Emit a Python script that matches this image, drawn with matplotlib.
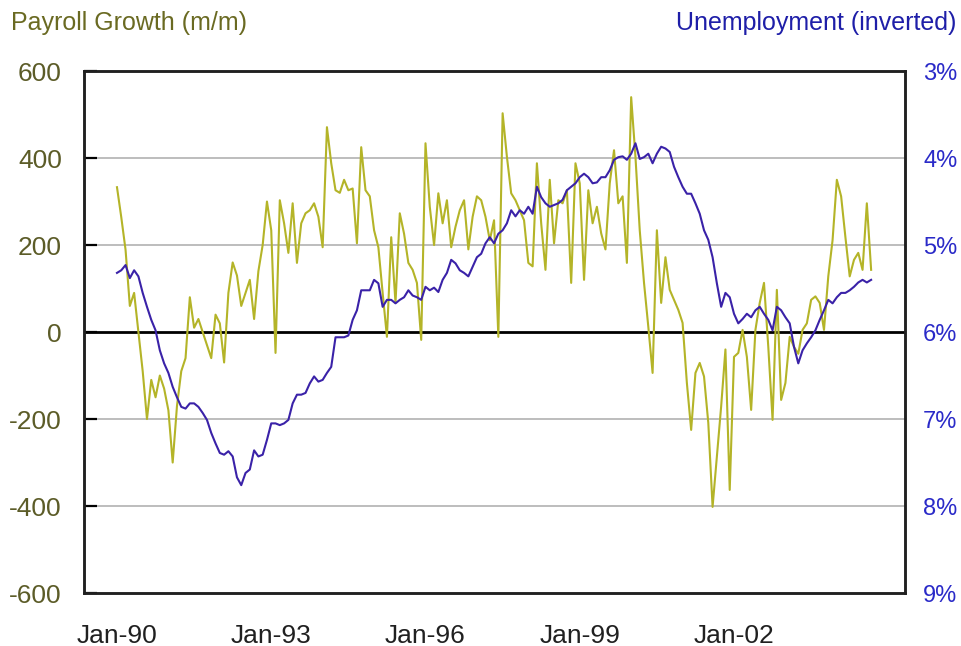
import numpy as np
import matplotlib
matplotlib.use("Agg")
import matplotlib.pyplot as plt

# monthly data, Jan-1990 onwards
payroll = [333, 264, 189, 60, 90, 0, -90, -200, -110, -150, -100, -130,
           -180, -300, -170, -90, -60, 80, 10, 30, 0, -30, -60, 40,
           20, -70, 90, 160, 130, 60, 90, 120, 30, 140, 200, 300,
           234, -48, 303, 250, 182, 296, 159, 250, 273, 280, 296, 265,
           195, 471, 388, 326, 320, 350, 326, 330, 204, 425, 326, 312,
           234, 195, 90, -11, 218, 67, 273, 226, 159, 143, 113, -18,
           434, 288, 200, 319, 250, 303, 195, 242, 280, 303, 190, 265,
           312, 303, 265, 211, 257, -11, 503, 403, 319, 303, 280, 257,
           159, 151, 388, 250, 143, 350, 204, 303, 296, 326, 113, 388,
           342, 120, 326, 250, 288, 227, 190, 342, 418, 296, 312, 159,
           540, 403, 234, 113, 12, -94, 234, 67, 172, 97, 74, 51,
           21, -117, -225, -94, -71, -102, -209, -402, -287, -171, -40, -363,
           -57, -48, 5, -57, -179, 5, 67, 113, -34, -202, 97, -156,
           -117, -11, -34, -50, 5, 20, 74, 82, 67, 5, 128, 211,
           350, 312, 218, 128, 166, 182, 143, 296, 143]

unemployment = [5.32, 5.29, 5.23, 5.38, 5.29, 5.36, 5.55, 5.71, 5.86, 5.98, 6.21, 6.36,
                6.47, 6.63, 6.75, 6.86, 6.88, 6.82, 6.82, 6.86, 6.93, 7.01, 7.16, 7.28,
                7.39, 7.41, 7.37, 7.43, 7.67, 7.76, 7.62, 7.58, 7.36, 7.43, 7.41, 7.24,
                7.05, 7.05, 7.07, 7.05, 7.01, 6.82, 6.72, 6.72, 6.70, 6.59, 6.51, 6.57,
                6.55, 6.47, 6.40, 6.06, 6.06, 6.06, 6.04, 5.86, 5.75, 5.52, 5.52, 5.52,
                5.40, 5.44, 5.71, 5.63, 5.63, 5.67, 5.63, 5.60, 5.52, 5.58, 5.60, 5.63,
                5.48, 5.52, 5.49, 5.54, 5.40, 5.32, 5.17, 5.21, 5.29, 5.32, 5.36, 5.25,
                5.14, 5.10, 4.98, 4.91, 4.98, 4.87, 4.83, 4.75, 4.60, 4.67, 4.60, 4.64,
                4.56, 4.64, 4.33, 4.45, 4.52, 4.56, 4.54, 4.52, 4.48, 4.37, 4.33, 4.29,
                4.22, 4.18, 4.22, 4.29, 4.28, 4.22, 4.22, 4.14, 4.02, 3.99, 3.98, 4.02,
                3.95, 3.83, 4.01, 3.99, 3.95, 4.06, 3.95, 3.87, 3.89, 3.93, 4.10, 4.22,
                4.33, 4.41, 4.41, 4.52, 4.64, 4.83, 4.94, 5.14, 5.44, 5.71, 5.55, 5.60,
                5.79, 5.90, 5.85, 5.79, 5.83, 5.75, 5.71, 5.79, 5.86, 5.98, 5.71, 5.75,
                5.83, 5.90, 6.17, 6.36, 6.21, 6.13, 6.06, 5.98, 5.86, 5.75, 5.63, 5.67,
                5.60, 5.55, 5.55, 5.52, 5.48, 5.43, 5.40, 5.43, 5.40]

tick_pos = [0, 36, 72, 108, 144]
tick_labels = ["Jan-90", "Jan-93", "Jan-96", "Jan-99", "Jan-02"]

plt.rcParams['font.family'] = ['Liberation Sans', 'DejaVu Sans']
plt.rcParams['axes.unicode_minus'] = False

fig = plt.figure(figsize=(9.61, 6.46), dpi=100)
ax = fig.add_axes([0.0874, 0.082, 0.8543, 0.808])
ax2 = ax.twinx()

months = np.arange(len(payroll))
ax.plot(months, payroll, color="#b4b428", lw=1.5, zorder=3)
ax2.plot(np.arange(len(unemployment)), unemployment, color="#3a22a8", lw=1.5, zorder=4)

ax.set_ylim(-600, 600)
ax.set_yticks(range(-600, 601, 200))
for v in [-400, -200, 200, 400]:
    ax.axhline(v, color="#b8b8b8", lw=1.3, zorder=1)
ax.axhline(0, color="black", lw=2, zorder=2)
ax.set_xlim(-7.7, 183.9)
ax.set_xticks(tick_pos)
ax.set_xticklabels(tick_labels)

ax2.set_ylim(9, 3)
ax2.set_yticks(range(3, 10))
ax2.set_yticklabels([f"{v}%" for v in range(3, 10)])

ax.tick_params(axis='y', direction='in', length=9, width=1.6, color='black',
               labelsize=19, labelcolor="#5c5c28", pad=16)
ax.tick_params(axis='x', length=0, labelsize=19, labelcolor="#202020", pad=22)
ax2.tick_params(axis='y', length=0, labelsize=17, labelcolor="#2a2ac8", pad=13)

for sp in list(ax.spines.values()) + list(ax2.spines.values()):
    sp.set_linewidth(1.8)
    sp.set_color("#202020")

fig.text(0.011, 0.965, "Payroll Growth (m/m)", color="#6a6a22", fontsize=18,
         ha="left", va="center")
fig.text(0.995, 0.965, "Unemployment (inverted)", color="#1e1ea8", fontsize=18,
         ha="right", va="center")

fig.savefig("out.png", dpi=100)
